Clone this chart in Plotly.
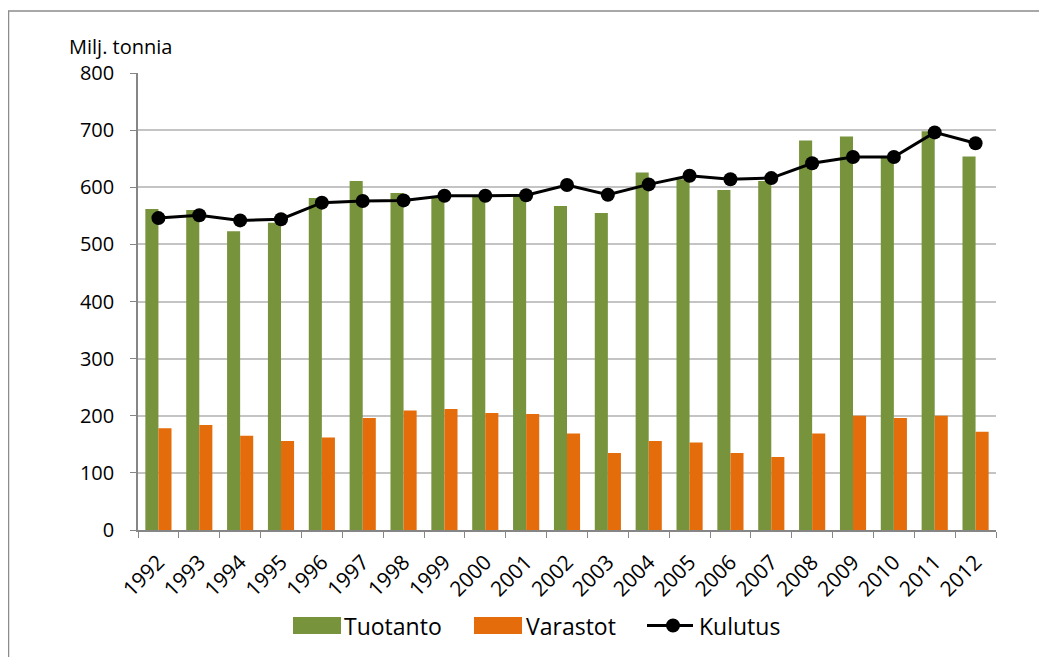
import plotly.graph_objects as go

years = [str(y) for y in range(1992, 2013)]
tuotanto = [562, 560, 523, 538, 581, 611, 590, 584, 584, 588, 567, 555, 626, 614, 595, 611, 682, 689, 652, 698, 654]
varastot = [178, 184, 165, 156, 162, 196, 209, 212, 205, 203, 169, 135, 156, 153, 135, 128, 169, 200, 196, 200, 172]
kulutus = [546, 551, 542, 544, 573, 576, 577, 585, 585, 586, 604, 587, 605, 620, 614, 616, 642, 653, 653, 696, 677]

FONT = "Open Sans"
GREEN = "#77933C"
ORANGE = "#E46C0A"

# page has an 8px body margin; work in page pixel coordinates and convert
OFF = 8
W, H = 1047 - OFF, 657 - OFF
PL, PR, PT, PB = 138, 996, 73, 530          # plot area in page pixels
L, T = PL - OFF, PT - OFF
R, B = W - (PR - OFF), H - (PB - OFF)
PW, PH = W - L - R, H - T - B


def px(x):
    return (x - OFF - L) / PW


def py(y):
    return (H - B - (y - OFF)) / PH


fig = go.Figure()
fig.add_trace(go.Bar(x=years, y=tuotanto, name="Tuotanto", marker=dict(color=GREEN, line=dict(width=0))))
fig.add_trace(go.Bar(x=years, y=varastot, name="Varastot", marker=dict(color=ORANGE, line=dict(width=0))))
fig.add_trace(go.Scatter(x=years, y=kulutus, name="Kulutus", mode="lines+markers",
                         line=dict(color="black", width=3),
                         marker=dict(color="black", size=14), cliponaxis=False))

shapes = [
    # chart border
    dict(type="rect", xref="paper", yref="paper",
         x0=px(8.5), x1=px(1080), y0=py(700), y1=py(11),
         line=dict(color="#8C8C8C", width=1.5), fillcolor="rgba(0,0,0,0)", layer="below"),
    # legend swatches
    dict(type="rect", xref="paper", yref="paper", x0=px(293), x1=px(341), y0=py(634), y1=py(617),
         fillcolor=GREEN, line=dict(width=0)),
    dict(type="rect", xref="paper", yref="paper", x0=px(474), x1=px(522), y0=py(634), y1=py(617),
         fillcolor=ORANGE, line=dict(width=0)),
    dict(type="line", xref="paper", yref="paper", x0=px(647), x1=px(693), y0=py(625.5), y1=py(625.5),
         line=dict(color="black", width=3)),
    dict(type="circle", xref="paper", yref="paper", x0=px(666), x1=px(680), y0=py(632.5), y1=py(618.5),
         fillcolor="black", line=dict(width=0)),
]

legend_labels = [("Tuotanto", 342), ("Varastot", 524), ("Kulutus", 697)]
annotations = [dict(text=t, xref="paper", yref="paper", x=px(xp), y=py(626),
                    xanchor="left", yanchor="middle", showarrow=False,
                    font=dict(size=23, family=FONT, color="black"))
               for t, xp in legend_labels]
annotations.append(dict(text="Milj. tonnia", xref="paper", yref="paper",
                        x=px(67), y=py(47), xanchor="left", yanchor="middle",
                        showarrow=False, font=dict(size=20, family=FONT, color="black")))

fig.update_layout(
    width=W, height=H,
    margin=dict(l=L, r=R, t=T, b=B, autoexpand=False),
    paper_bgcolor="white", plot_bgcolor="white",
    barmode="group", bargap=0.36, bargroupgap=0,
    font=dict(family=FONT, size=20, color="black"),
    showlegend=False,
    xaxis=dict(type="category", range=[-0.5, len(years) - 0.5],
               showline=True, linecolor="#868686", linewidth=1.5,
               ticks="outside", tickson="boundaries", ticklen=6, tickcolor="#868686",
               tickangle=-45, tickfont=dict(size=21, family=FONT), showgrid=False,
               ticklabelstandoff=10, automargin=False),
    yaxis=dict(range=[0, 800], dtick=100, showline=True, linecolor="#868686", linewidth=1.5,
               ticks="outside", ticklen=6, tickcolor="#868686", ticklabelstandoff=12,
               showgrid=True, gridcolor="#C4C4C4", gridwidth=1.5,
               tickfont=dict(size=20, family=FONT), zeroline=False, automargin=False),
    shapes=shapes,
    annotations=annotations,
)

fig.write_html("out.html")
